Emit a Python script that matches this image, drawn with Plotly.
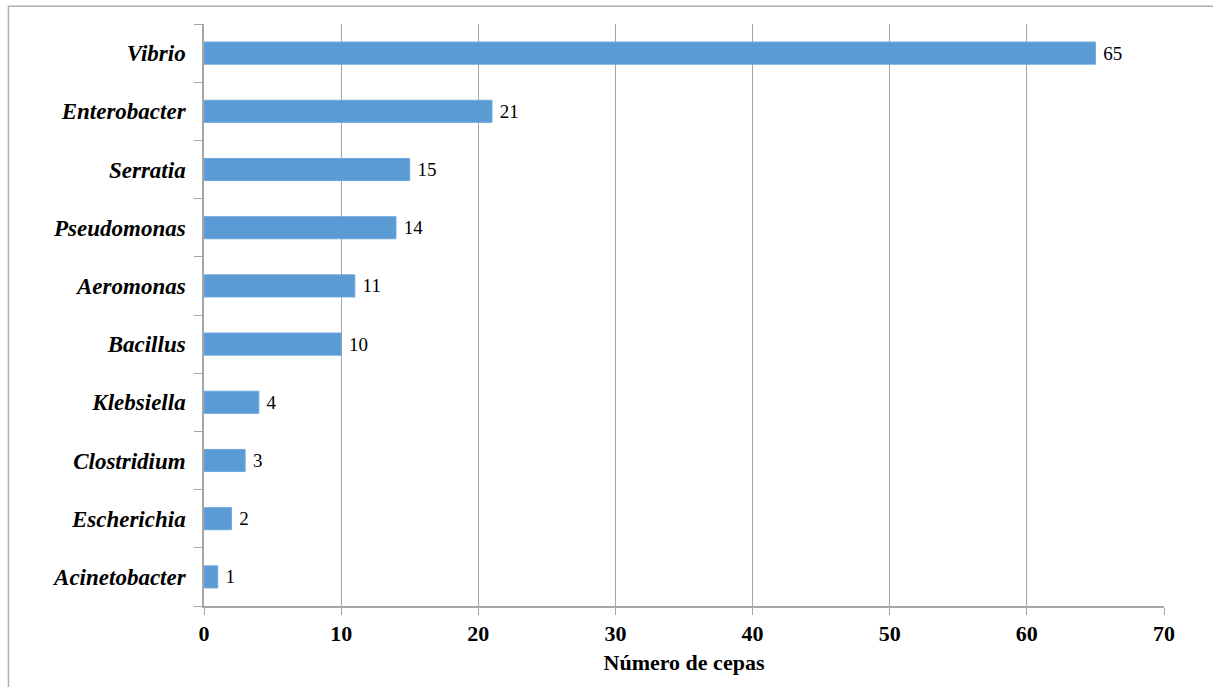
import plotly.graph_objects as go

# Number of strains per bacterial genus
genera = ["Acinetobacter", "Escherichia", "Clostridium", "Klebsiella", "Bacillus",
          "Aeromonas", "Pseudomonas", "Serratia", "Enterobacter", "Vibrio"]
strains = [1, 2, 3, 4, 10, 11, 14, 15, 21, 65]
x_ticks = [0, 10, 20, 30, 40, 50, 60, 70]

SERIF = "Liberation Serif, Times New Roman, serif"
GRID = "#A6A6A6"

fig = go.Figure(go.Bar(
    x=strains,
    y=genera,
    orientation="h",
    marker=dict(color="#5B9BD5", line=dict(color="#6FA8DC", width=1)),
    text=[str(v) for v in strains],
    texttemplate=" %{text}",
    textposition="outside",
    textfont=dict(family=SERIF, size=19, color="#000000"),
    cliponaxis=False,
))

fig.update_layout(
    width=1213,
    height=687,
    margin=dict(l=204, r=49, t=24, b=81),
    paper_bgcolor="white",
    plot_bgcolor="white",
    bargap=0.62,
    showlegend=False,
    xaxis=dict(
        range=[0, 70],
        tickvals=x_ticks,
        ticktext=[str(v) for v in x_ticks],
        showgrid=True,
        gridcolor=GRID,
        gridwidth=1,
        zeroline=False,
        showline=True,
        linecolor=GRID,
        linewidth=1.5,
        ticks="outside",
        ticklen=7,
        tickcolor=GRID,
        tickfont=dict(family=SERIF, size=22, color="#000000", weight="bold"),
        title=dict(text="<b>Número de cepas</b>",
                   font=dict(family=SERIF, size=22, color="#000000"),
                   standoff=9),
        fixedrange=True,
    ),
    yaxis=dict(
        type="category",
        categoryorder="array",
        categoryarray=genera,
        showgrid=False,
        zeroline=False,
        showline=True,
        linecolor=GRID,
        linewidth=1.5,
        ticks="outside",
        tickson="boundaries",
        ticklen=8,
        tickcolor=GRID,
        ticklabelstandoff=12,
        tickfont=dict(family=SERIF, size=23, color="#000000",
                      weight="bold", style="italic"),
        fixedrange=True,
    ),
    shapes=[dict(
        type="rect", xref="paper", yref="paper",
        x0=-0.2037, x1=1.06, y0=-0.16, y1=1.0307,
        line=dict(color="#B0B0B0", width=1.5),
        fillcolor="rgba(0,0,0,0)",
        layer="below",
    )],
)

fig.write_html("out.html")
